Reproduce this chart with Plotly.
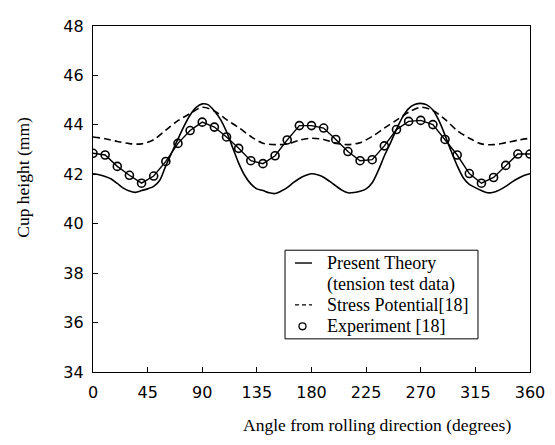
import plotly.graph_objects as go

# ---- data ----
theory_angle = list(range(0, 361, 5))
theory_height = [42.02, 41.98, 41.91, 41.81, 41.63, 41.44, 41.32, 41.27, 41.34, 41.41,
                 41.51, 41.76, 42.35, 42.89, 43.43, 43.95, 44.40, 44.71, 44.85, 44.81,
                 44.56, 44.22, 43.72, 43.09, 42.45, 41.95, 41.61, 41.41, 41.34, 41.25,
                 41.22, 41.32, 41.46, 41.66, 41.83, 41.95, 42.02, 41.98, 41.88, 41.71,
                 41.53, 41.36, 41.25, 41.26, 41.31, 41.41, 41.66, 42.15, 42.74, 43.26,
                 43.82, 44.31, 44.66, 44.82, 44.87, 44.81, 44.60, 44.17, 43.58, 42.94,
                 42.35, 41.86, 41.59, 41.46, 41.34, 41.25, 41.27, 41.37, 41.51, 41.68,
                 41.83, 41.95, 42.02]

stress_angle = list(range(0, 361, 10))
stress_height = [43.51, 43.44, 43.33, 43.24, 43.23, 43.40, 43.79, 44.17, 44.46, 44.71,
                 44.56, 44.21, 43.89, 43.53, 43.26, 43.20, 43.23, 43.38, 43.46, 43.41,
                 43.26, 43.20, 43.28, 43.53, 43.87, 44.19, 44.51, 44.71, 44.58, 44.22,
                 43.77, 43.46, 43.23, 43.20, 43.28, 43.38, 43.46]

exp_angle = list(range(0, 361, 10))
exp_height = [42.85, 42.78, 42.32, 41.96, 41.64, 41.93, 42.52, 43.25, 43.77, 44.11,
              43.91, 43.51, 43.05, 42.55, 42.43, 42.75, 43.39, 43.97, 43.97, 43.87,
              43.41, 42.92, 42.55, 42.59, 43.15, 43.81, 44.14, 44.18, 44.01, 43.41,
              42.78, 42.03, 41.64, 41.87, 42.36, 42.82, 42.82]

x_ticks = [0, 45, 90, 135, 180, 225, 270, 315, 360]
y_ticks = [34, 36, 38, 40, 42, 44, 46, 48]

legend_labels = ["Present Theory", "(tension test data)", "Stress Potential[18]", "Experiment [18]"]

SERIF = "Liberation Serif, Times New Roman, serif"
SANS = "DejaVu Sans, sans-serif"

fig = go.Figure()
fig.add_trace(go.Scatter(x=theory_angle, y=theory_height, mode="lines",
                         line=dict(color="black", width=1.6, shape="spline", smoothing=0.8),
                         name="Present Theory (tension test data)", showlegend=False))
fig.add_trace(go.Scatter(x=stress_angle, y=stress_height, mode="lines",
                         line=dict(color="black", width=1.6, dash="7px,4px", shape="spline", smoothing=0.9),
                         name="Stress Potential[18]", showlegend=False))
fig.add_trace(go.Scatter(x=exp_angle, y=exp_height, mode="lines",
                         line=dict(color="black", width=1.4),
                         showlegend=False, hoverinfo="skip"))
fig.add_trace(go.Scatter(x=exp_angle, y=exp_height, mode="markers",
                         marker=dict(symbol="circle-open", size=8, color="black",
                                     line=dict(width=1.6, color="black")),
                         name="Experiment [18]", showlegend=False))

# ---- hand-drawn legend box (paper coordinates) ----
box_x0, box_x1, box_y0, box_y1 = 0.4394, 0.881, 0.0958, 0.352
row_y = [0.315, 0.254, 0.194, 0.132]
sample_x0, sample_x1 = 0.4622, 0.5011
text_x = 0.531

shapes = [
    dict(type="rect", xref="paper", yref="paper", x0=box_x0, x1=box_x1, y0=box_y0, y1=box_y1,
         line=dict(color="black", width=1), fillcolor="white", layer="above"),
    dict(type="line", xref="paper", yref="paper", x0=sample_x0, x1=sample_x1, y0=row_y[0], y1=row_y[0],
         line=dict(color="black", width=1.4), layer="above"),
    dict(type="line", xref="paper", yref="paper", x0=sample_x0, x1=sample_x1, y0=row_y[2], y1=row_y[2],
         line=dict(color="black", width=1.4, dash="4px,3px"), layer="above"),
    dict(type="circle", xref="paper", yref="paper",
         x0=0.4794 - 0.008, x1=0.4794 + 0.008, y0=row_y[3] - 0.0099, y1=row_y[3] + 0.0099,
         line=dict(color="black", width=1.3), layer="above"),
]

annotations = [
    dict(text="Angle from rolling direction (degrees)", xref="paper", yref="paper",
         x=0.65, y=-0.152, xanchor="center", yanchor="middle", showarrow=False,
         font=dict(family=SERIF, size=17.5, color="black")),
    dict(text="Cup height (mm)", xref="paper", yref="paper",
         x=-0.159, y=0.563, xanchor="center", yanchor="middle", showarrow=False,
         textangle=-90, font=dict(family=SERIF, size=17.5, color="black")),
]
for lab, ry in zip(legend_labels, row_y):
    annotations.append(dict(text=lab, xref="paper", yref="paper", x=text_x, y=ry,
                            xanchor="left", yanchor="middle", showarrow=False,
                            font=dict(family=SERIF, size=18, color="black")))

fig.update_layout(
    width=547, height=437,
    margin=dict(l=85, r=25, t=9, b=73),
    paper_bgcolor="white", plot_bgcolor="white",
    showlegend=False,
    shapes=shapes,
    annotations=annotations,
    xaxis=dict(range=[0, 360], tickvals=x_ticks, ticks="inside", ticklen=5,
               tickcolor="black", showline=True, linecolor="black", linewidth=1.3,
               mirror=True, showgrid=False, zeroline=False, ticklabelstandoff=6,
               ticklabeloverflow="allow",
               tickfont=dict(family=SANS, size=16, color="black")),
    yaxis=dict(range=[34, 48], tickvals=y_ticks, ticks="inside", ticklen=5,
               tickcolor="black", showline=True, linecolor="black", linewidth=1.3,
               mirror=True, showgrid=False, zeroline=False, ticklabelstandoff=5,
               ticklabeloverflow="allow",
               tickfont=dict(family=SANS, size=16, color="black")),
)

fig.write_html("out.html")
